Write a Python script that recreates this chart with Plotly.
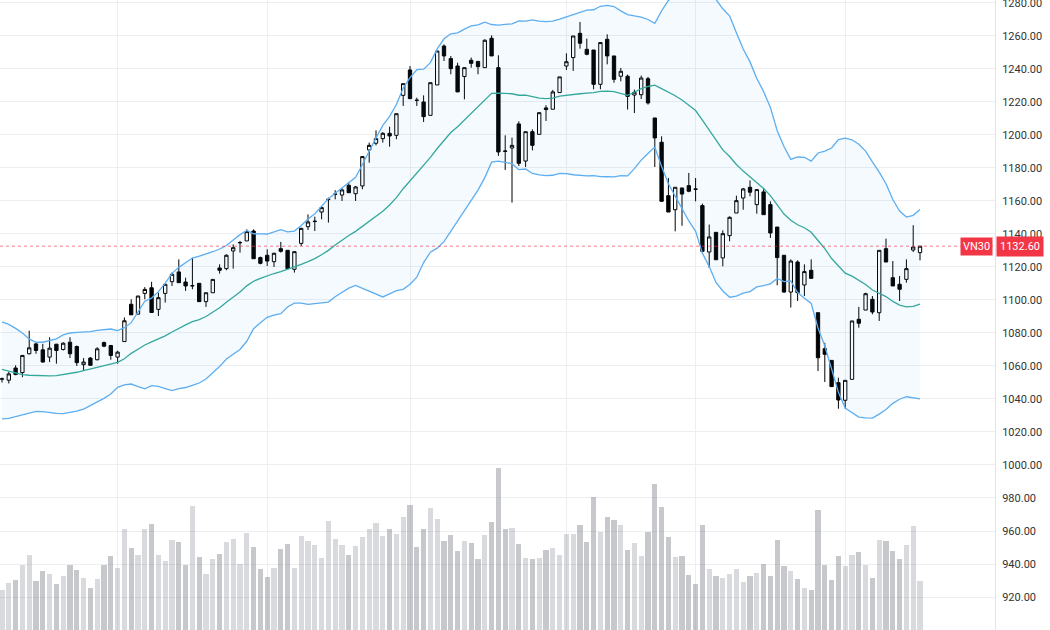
import plotly.graph_objects as go
import numpy as np

# ---- data (daily VN30 candles) ----
open_ = [
    1052.0, 1051.4, 1058.8, 1056.0, 1067.4, 1073.4, 1069.8, 1065.4, 1073.2, 1070.0,
    1074.4, 1071.8, 1060.8, 1064.8, 1063.8, 1074.2, 1072.4, 1065.4, 1074.8, 1097.4,
    1091.4, 1104.0, 1107.4, 1094.3, 1104.0, 1111.1, 1117.0, 1110.9, 1108.5, 1110.1,
    1099.0, 1104.4, 1119.4, 1119.0, 1129.7, 1134.6, 1135.8, 1141.8, 1125.7, 1127.1,
    1123.2, 1131.1, 1130.1, 1118.6, 1134.3, 1144.4, 1147.5, 1153.3, 1160.8, 1164.0,
    1163.6, 1169.5, 1164.4, 1169.1, 1190.9, 1195.0, 1197.8, 1201.0, 1199.8, 1224.0,
    1239.4, 1221.1, 1220.0, 1211.9, 1230.3, 1253.9, 1246.3, 1241.8, 1235.4, 1245.3,
    1244.6, 1240.8, 1258.6, 1240.8, 1190.3, 1192.1, 1206.7, 1184.2, 1202.0, 1200.4,
    1216.4, 1215.6, 1225.7, 1241.8, 1246.9, 1261.6, 1251.9, 1251.5, 1230.7, 1258.0,
    1247.9, 1235.6, 1235.6, 1224.2, 1224.4, 1234.1, 1210.3, 1195.6, 1163.2, 1154.7,
    1167.9, 1169.3, 1167.3, 1157.2, 1129.1, 1141.0, 1125.5, 1139.0, 1152.7, 1161.8,
    1168.3, 1157.8, 1165.5, 1157.8, 1144.2, 1127.1, 1104.8, 1123.0, 1109.1, 1118.0,
    1092.3, 1070.5, 1063.4, 1049.9, 1039.2, 1051.9, 1088.3, 1093.9, 1100.4, 1092.3,
    1131.1, 1113.5, 1109.5, 1112.5, 1130.3, 1128.7,
]
high = [
    1053.0, 1056.4, 1060.4, 1066.4, 1081.4, 1074.0, 1073.4, 1077.4, 1073.4, 1074.4,
    1077.4, 1072.4, 1064.8, 1065.4, 1071.4, 1074.8, 1072.8, 1069.2, 1089.4, 1100.4,
    1102.4, 1107.8, 1111.0, 1104.4, 1109.5, 1116.6, 1124.6, 1113.5, 1125.6, 1110.1,
    1104.4, 1112.5, 1121.6, 1127.7, 1133.7, 1135.8, 1142.8, 1142.8, 1126.3, 1130.7,
    1128.7, 1135.2, 1130.1, 1129.3, 1143.8, 1151.9, 1150.5, 1157.0, 1162.0, 1166.5,
    1167.7, 1171.1, 1169.1, 1186.9, 1195.4, 1202.8, 1201.8, 1205.0, 1212.9, 1231.1,
    1241.8, 1222.6, 1224.0, 1231.7, 1250.9, 1254.9, 1247.9, 1243.8, 1240.8, 1246.9,
    1244.6, 1258.0, 1260.4, 1248.3, 1199.8, 1198.4, 1208.3, 1202.0, 1203.4, 1213.9,
    1218.0, 1227.3, 1235.2, 1249.5, 1260.0, 1268.5, 1258.4, 1251.5, 1256.0, 1261.0,
    1247.9, 1240.6, 1236.6, 1227.5, 1236.0, 1235.2, 1210.3, 1199.2, 1173.9, 1168.3,
    1167.9, 1177.0, 1173.9, 1158.4, 1145.7, 1141.0, 1142.2, 1150.7, 1163.2, 1167.9,
    1172.5, 1166.9, 1167.9, 1159.8, 1144.2, 1127.1, 1124.6, 1124.0, 1121.6, 1124.6,
    1092.3, 1074.1, 1063.4, 1052.9, 1051.3, 1087.3, 1095.8, 1104.4, 1102.4, 1130.1,
    1137.2, 1123.6, 1114.5, 1124.6, 1145.3, 1132.7,
]
low = [
    1050.0, 1049.4, 1054.4, 1053.2, 1067.0, 1067.4, 1062.0, 1062.4, 1061.4, 1069.4,
    1064.8, 1060.0, 1057.4, 1060.0, 1063.4, 1071.4, 1063.8, 1061.4, 1074.8, 1091.0,
    1091.4, 1100.4, 1092.4, 1090.3, 1098.4, 1108.5, 1110.5, 1105.5, 1106.5, 1099.0,
    1095.8, 1104.4, 1116.0, 1118.0, 1119.0, 1128.7, 1135.8, 1125.0, 1121.6, 1120.6,
    1120.0, 1128.7, 1119.0, 1116.6, 1132.7, 1142.4, 1141.8, 1148.9, 1146.9, 1161.0,
    1160.0, 1165.0, 1160.0, 1167.1, 1183.2, 1193.7, 1195.4, 1192.9, 1197.4, 1217.6,
    1222.0, 1217.6, 1207.9, 1211.9, 1230.3, 1244.8, 1236.8, 1226.1, 1221.6, 1240.8,
    1236.8, 1240.8, 1247.9, 1187.3, 1178.8, 1159.0, 1181.2, 1180.6, 1190.7, 1200.4,
    1208.5, 1215.6, 1225.7, 1239.4, 1238.8, 1252.3, 1248.3, 1227.7, 1227.7, 1242.8,
    1231.7, 1232.5, 1215.4, 1213.3, 1221.8, 1218.4, 1180.6, 1159.8, 1153.3, 1141.6,
    1145.0, 1165.3, 1159.8, 1128.5, 1119.4, 1124.4, 1120.4, 1135.6, 1152.7, 1154.7,
    1162.8, 1152.3, 1151.7, 1137.6, 1108.9, 1104.4, 1095.4, 1099.4, 1102.4, 1113.1,
    1057.0, 1050.3, 1047.5, 1034.1, 1034.1, 1051.9, 1083.2, 1093.9, 1091.3, 1087.3,
    1123.0, 1108.5, 1099.4, 1110.5, 1129.1, 1124.0,
]
close = [
    1052.2, 1055.2, 1054.8, 1066.4, 1071.0, 1069.4, 1062.4, 1070.8, 1069.4, 1073.8,
    1067.4, 1062.0, 1062.4, 1060.4, 1070.4, 1072.0, 1066.4, 1068.4, 1087.4, 1091.0,
    1102.4, 1106.4, 1092.4, 1101.4, 1109.5, 1115.6, 1110.5, 1108.5, 1108.7, 1099.0,
    1104.4, 1112.5, 1118.0, 1127.1, 1131.7, 1134.8, 1141.4, 1125.0, 1122.2, 1123.6,
    1128.3, 1129.5, 1119.0, 1129.3, 1143.4, 1147.3, 1147.7, 1156.0, 1161.0, 1164.2,
    1166.7, 1165.0, 1168.5, 1186.9, 1193.7, 1197.8, 1201.0, 1199.4, 1212.9, 1231.1,
    1222.0, 1221.0, 1211.1, 1231.7, 1250.9, 1247.9, 1240.2, 1226.1, 1240.8, 1243.4,
    1241.4, 1257.4, 1247.9, 1189.7, 1190.1, 1193.7, 1182.8, 1202.0, 1193.7, 1213.5,
    1215.4, 1226.1, 1235.2, 1244.4, 1260.0, 1255.6, 1248.9, 1230.7, 1256.0, 1247.9,
    1233.7, 1238.6, 1223.4, 1225.9, 1234.5, 1219.4, 1198.2, 1159.8, 1153.3, 1168.3,
    1164.2, 1165.9, 1167.1, 1129.5, 1138.2, 1124.4, 1140.2, 1150.1, 1160.2, 1167.3,
    1165.3, 1166.9, 1151.7, 1140.6, 1125.7, 1104.8, 1123.6, 1104.4, 1117.2, 1113.1,
    1065.0, 1067.1, 1047.5, 1039.4, 1051.3, 1087.3, 1085.9, 1103.8, 1092.7, 1130.1,
    1123.0, 1108.5, 1106.5, 1119.0, 1132.1, 1132.6,
]
volume = [
    80, 95, 100, 130, 150, 98, 118, 112, 93, 109,
    131, 120, 105, 84, 103, 130, 148, 125, 202, 165,
    151, 203, 213, 151, 139, 181, 176, 131, 249, 147,
    112, 142, 153, 177, 183, 133, 195, 167, 122, 107,
    125, 163, 172, 125, 189, 179, 170, 144, 219, 183,
    170, 151, 168, 187, 202, 215, 189, 202, 193, 227,
    251, 167, 202, 245, 223, 178, 191, 158, 179, 174,
    142, 191, 216, 324, 202, 204, 173, 144, 142, 144,
    160, 165, 150, 193, 193, 210, 176, 266, 197, 227,
    221, 210, 161, 174, 148, 196, 292, 246, 186, 146,
    148, 111, 92, 210, 122, 109, 105, 112, 122, 97,
    109, 114, 133, 109, 180, 128, 118, 102, 85, 81,
    240, 130, 100, 148, 128, 150, 156, 130, 104, 180,
    178, 158, 143, 170, 208, 98,
]
# Bollinger values for the first 19 sessions (their 20-day window starts before the visible data)
bb_upper_early = [1086.8, 1085.2, 1082.8, 1080.0, 1076.4, 1074.4, 1074.4, 1075.2, 1076.4, 1078.8,
                  1080.0, 1080.4, 1080.6, 1080.8, 1081.6, 1082.2, 1082.4, 1081.4, 1083.2]
bb_mid_early = [1058.0, 1056.8, 1055.6, 1054.8, 1054.4, 1054.2, 1054.0, 1054.0, 1054.2, 1054.8,
                1055.4, 1056.2, 1057.2, 1058.2, 1059.4, 1060.4, 1061.2, 1062.2, 1064.4]
bb_lower_early = [1027.9, 1028.3, 1029.3, 1030.3, 1031.7, 1032.5, 1032.3, 1031.7, 1031.3, 1031.1,
                  1031.7, 1032.7, 1033.9, 1035.9, 1038.0, 1040.4, 1043.0, 1047.1, 1048.5]
month_start_idx = [17, 39, 60, 83, 102, 124]
price_ticks = list(range(920, 1281, 20))
symbol = "VN30"
last_price = 1132.6
bb_period = 20
bb_k = 2

# ---- Bollinger bands (20, 2) ----
x = list(range(len(close)))
c = np.array(close)
bb_mid = list(bb_mid_early)
bb_up = list(bb_upper_early)
bb_lo = list(bb_lower_early)
for i in range(bb_period - 1, len(c)):
    w = c[i - bb_period + 1:i + 1]
    m, s = w.mean(), w.std()
    bb_mid.append(m)
    bb_up.append(m + bb_k * s)
    bb_lo.append(m - bb_k * s)

RED = "#f23645"
GRID = "#eceef2"
vol_colors = ["rgba(120,123,134,0.42)" if cl < op else "rgba(120,123,134,0.28)"
              for op, cl in zip(open_, close)]

fig = go.Figure()
fig.add_trace(go.Scatter(x=x, y=bb_up, mode="lines", line=dict(color="#5eaef0", width=1.3),
                         hoverinfo="skip", showlegend=False))
fig.add_trace(go.Scatter(x=x, y=bb_lo, mode="lines", line=dict(color="#5eaef0", width=1.3),
                         fill="tonexty", fillcolor="rgba(33,150,243,0.05)",
                         hoverinfo="skip", showlegend=False))
fig.add_trace(go.Scatter(x=x, y=bb_mid, mode="lines", line=dict(color="#35a89c", width=1.3),
                         hoverinfo="skip", showlegend=False))
fig.add_trace(go.Candlestick(
    x=x, open=open_, high=high, low=low, close=close,
    increasing=dict(line=dict(color="#000000", width=1), fillcolor="#ffffff"),
    decreasing=dict(line=dict(color="#000000", width=1), fillcolor="#000000"),
    whiskerwidth=0, showlegend=False, name=symbol))
fig.add_trace(go.Bar(x=x, y=volume, yaxis="y2", marker=dict(color=vol_colors, line=dict(width=0)),
                     width=0.75, showlegend=False, hoverinfo="skip"))

fig.add_shape(type="line", xref="paper", x0=0, x1=1, yref="y", y0=last_price, y1=last_price,
              line=dict(color="rgba(242,54,69,0.65)", width=1, dash="dot"))

fig.add_annotation(xref="paper", x=1, xanchor="right", xshift=-2, yref="y", y=last_price,
                   text=symbol, showarrow=False, bgcolor=RED, borderpad=2,
                   font=dict(color="white", size=11, family="Roboto"))
fig.add_annotation(xref="paper", x=1, xanchor="left", xshift=1, yref="y", y=last_price,
                   text=f"{last_price:.2f}", showarrow=False, bgcolor=RED, borderpad=3,
                   font=dict(color="white", size=11, family="Roboto"))

fig.update_layout(
    width=1050, height=630,
    margin=dict(l=0, r=55, t=0, b=0, autoexpand=False),
    paper_bgcolor="white", plot_bgcolor="white",
    showlegend=False, bargap=0,
    xaxis=dict(range=[-0.294, 146.03], tickvals=month_start_idx, showticklabels=False,
               showgrid=True, gridcolor=GRID, gridwidth=1, zeroline=False, ticks="",
               rangeslider=dict(visible=False), showline=False),
    yaxis=dict(side="right", range=[900, 1281.8], tickvals=price_ticks, tickformat=".2f",
               showgrid=True, gridcolor=GRID, gridwidth=1, zeroline=False, ticks="",
               showline=True, linecolor="#e0e3eb", linewidth=1, automargin=False,
               ticklabeloverflow="allow", ticklabelstandoff=4,
               tickfont=dict(size=11, color="#333333", family="Roboto")),
    yaxis2=dict(overlaying="y", range=[0, 1260], visible=False, showgrid=False),
)

fig.write_html("out.html")
